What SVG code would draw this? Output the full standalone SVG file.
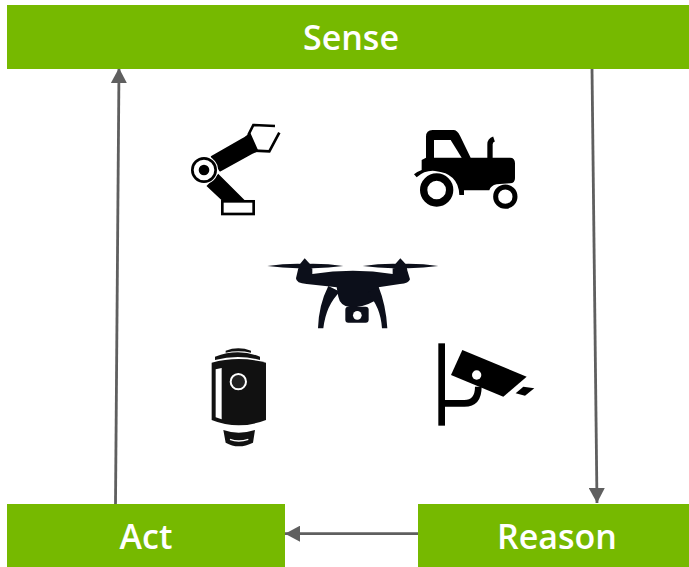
<svg xmlns="http://www.w3.org/2000/svg" width="689" height="567" viewBox="0 0 689 567">
<style>
.box{fill:#76b900}
.lbl{font-family:"Open Sans","Liberation Sans",sans-serif;font-weight:600;font-size:34px;fill:#fff;text-anchor:middle}
.conn{fill:none;stroke:#5f5f5f;stroke-width:2.800}
.k{fill:#000}
.w{fill:#fff}
</style>
<defs>
<marker id="arr" markerUnits="userSpaceOnUse" markerWidth="16" markerHeight="16" refX="15" refY="8" orient="auto">
<path d="M0,0 L15,8 L0,16 Z" fill="#5f5f5f"/>
</marker>
</defs>
<rect width="689" height="567" fill="#fff"/>
<g id="connectors">
<path class="conn" d="M592,68 L597,503" marker-end="url(#arr)"/>
<path class="conn" d="M115.500,504 L119,68" marker-end="url(#arr)"/>
<path class="conn" d="M418,533.700 L285,533.700" marker-end="url(#arr)"/>
</g>
<g id="sense"><rect class="box" x="7" y="5" width="682" height="64"/><text class="lbl" x="351" y="50">Sense</text></g>
<g id="act"><rect class="box" x="7" y="504" width="278" height="63"/><text class="lbl" x="146" y="549">Act</text></g>
<g id="reason"><rect class="box" x="418" y="504" width="271" height="63"/><text class="lbl" x="557" y="549">Reason</text></g>
<g id="robot-arm" transform="translate(170,110) scale(.3333)">
<path class="k" stroke="#000" stroke-width="5" stroke-linejoin="round" d="M125,140 L222,85 L240,72 L262,122 L245,130 L150,182 Z"/>
<path d="M235,75 L250,45 L315,48 M250,122 L298,124 L328,68" fill="none" stroke="#000" stroke-width="8"/>
<path class="k" stroke="#000" stroke-width="5" d="M145,195 L222,272 L160,272 L113,228 Z"/>
<rect x="157" y="274" width="94" height="38" fill="#fff" stroke="#000" stroke-width="8"/>
<circle cx="102" cy="180" r="42" class="w"/>
<circle cx="102" cy="180" r="35" fill="#fff" stroke="#000" stroke-width="8"/>
<circle cx="102" cy="180" r="16" class="k"/>
</g>
<g id="tractor" transform="translate(400,115) scale(.3333)">
<path class="k" d="M65,165 L65,135 L78,128 L78,65 Q78,45 98,45 L160,45 Q172,45 180,62 L212,128 L330,128 Q345,128 345,145 L345,190 Q345,205 330,205 L290,208 Q272,212 268,226 L192,226 L192,240 L178,240 Q176,175 105,168 Q75,165 50,187 L42,178 Q50,170 65,165 Z"/>
<path class="w" d="M102,75 L152,75 L185,128 L102,128 Z"/>
<path d="M270,130 L270,88 Q270,76 282,72" fill="none" stroke="#000" stroke-width="16"/>
<circle cx="110" cy="225" r="39" fill="#fff" stroke="#000" stroke-width="22"/>
<circle cx="316" cy="245" r="29" fill="#fff" stroke="#000" stroke-width="15"/>
</g>
<g id="drone" transform="translate(260,250) scale(.3333)" fill="#0c0f1a">
<path d="M22,48 Q80,40 135,42 Q195,40 250,48 Q195,56 135,54 Q80,56 22,48 Z"/>
<path d="M308,48 Q365,40 422,42 Q480,40 535,48 Q480,56 422,54 Q365,56 308,48 Z"/>
<path d="M120,42 L134,25 L150,42 L155,60 L115,60 Z"/>
<path d="M406,42 L421,25 L437,42 L442,60 L402,60 Z"/>
<path d="M108,85 L115,55 L157,55 L157,72 Q280,52 398,72 L398,55 L440,55 L450,88 Q447,100 420,102 L355,112 L345,152 Q310,172 272,172 Q240,168 235,140 L230,112 L140,102 Q108,100 108,85 Z"/>
<path d="M205,108 L240,125 Q198,165 190,235 L174,235 Q176,165 205,108 Z"/>
<path d="M355,108 L322,128 Q362,170 366,235 L382,235 Q378,165 355,108 Z"/>
<rect x="256" y="170" width="70" height="48" rx="9"/>
<circle cx="292" cy="196" r="13" fill="#fff"/>
</g>
<g id="cylinder-camera" transform="translate(195,340) scale(.3333)">
<path fill="#111" d="M92,32 Q130,18 168,32 L168,38 Q130,30 92,38 Z"/>
<path fill="#111" d="M60,50 Q130,24 195,50 L195,60 Q130,42 60,60 Z"/>
<path fill="#111" d="M50,68 Q130,46 213,68 L213,240 Q130,272 50,240 Z"/>
<path class="w" d="M62,88 L80,84 L80,238 L62,232 Z"/>
<circle cx="130" cy="125" r="23" fill="#222" stroke="#fff" stroke-width="6"/>
<path fill="#111" d="M85,270 Q130,286 180,270 L174,308 Q130,330 92,308 Z"/>
<path d="M105,298 Q130,308 160,298" fill="none" stroke="#fff" stroke-width="4"/>
</g>
<g id="security-camera" transform="translate(425,335) scale(.3333)">
<rect class="k" x="40" y="25" width="20" height="247"/>
<path d="M58,205 L118,205 Q160,205 160,155" fill="none" stroke="#000" stroke-width="20"/>
<path class="k" d="M112,45 L305,125 L235,185 L78,120 Z"/>
<circle cx="155" cy="120" r="14" class="w"/>
<path class="k" d="M295,155 L328,160 L300,182 L272,175 Z"/>
</g>
</svg>
